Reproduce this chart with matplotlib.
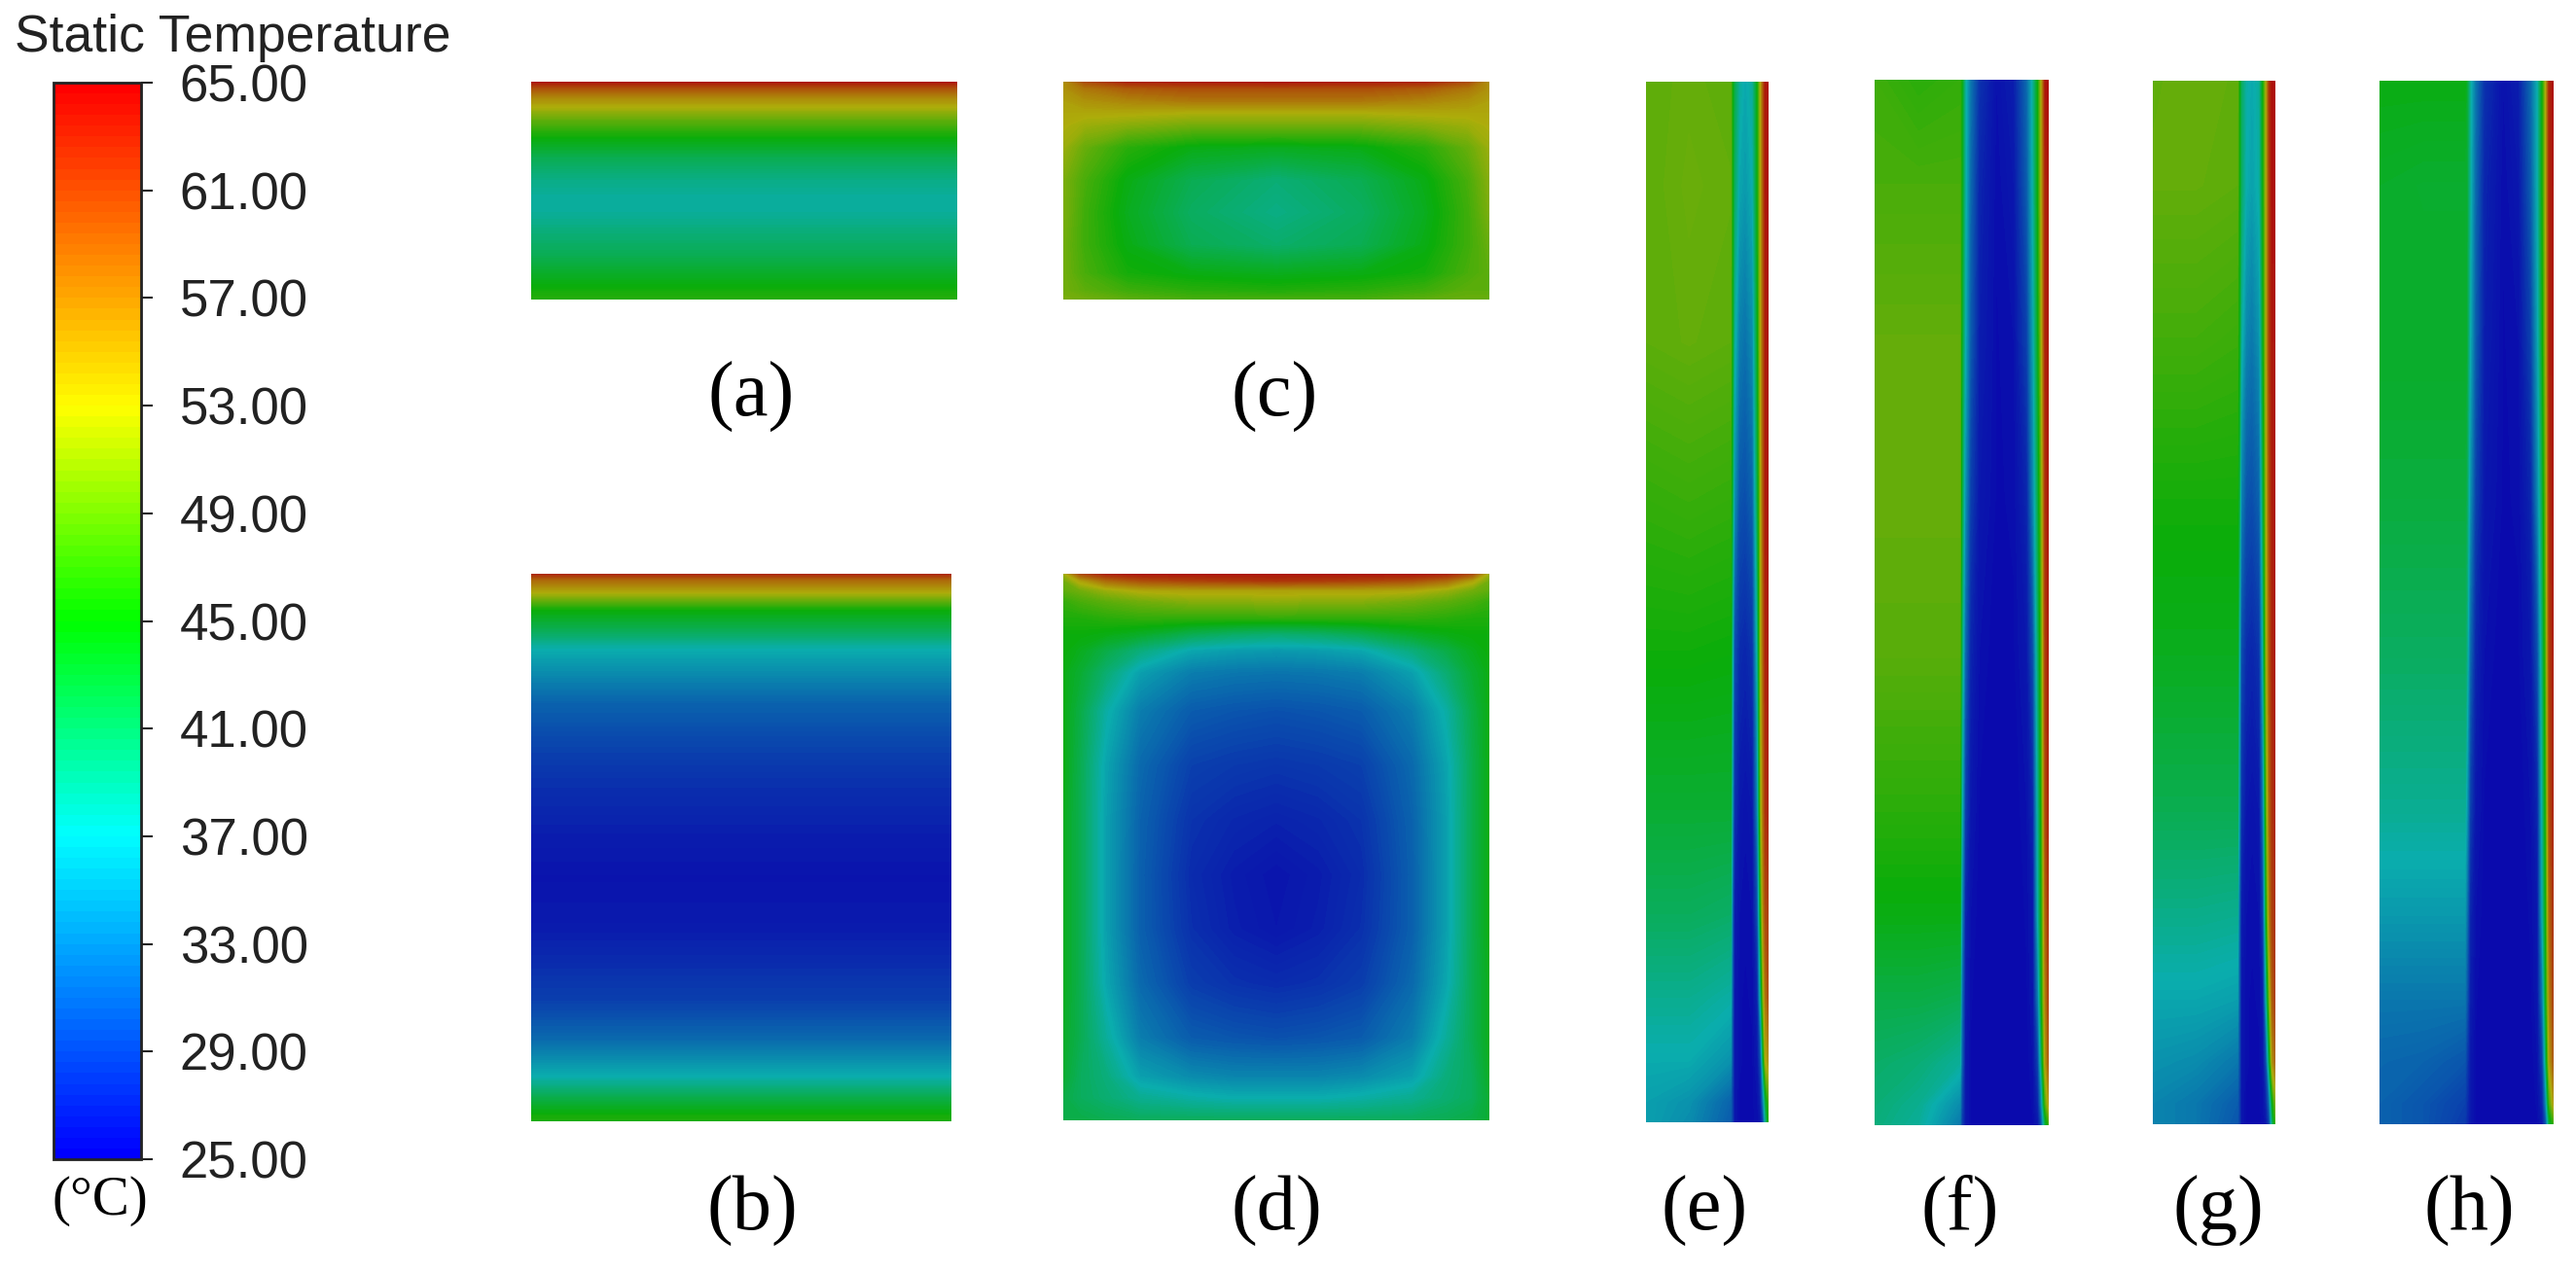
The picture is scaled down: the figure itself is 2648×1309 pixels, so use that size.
import numpy as np
import matplotlib
matplotlib.use("Agg")
import matplotlib.pyplot as plt
from matplotlib.colors import LinearSegmentedColormap, Normalize
from matplotlib.cm import ScalarMappable

W, H = 2648, 1309

# ---------- data: temperatures (deg C) ----------
tick_values = [25, 29, 33, 37, 41, 45, 49, 53, 57, 61, 65]
tick_labels = ["25.00", "29.00", "33.00", "37.00", "41.00", "45.00", "49.00", "53.00", "57.00", "61.00", "65.00"]
colorbar_title = "Static Temperature"
unit_label = "(°C)"

a_y = [0, .03, .07, .116, .18, .258, .35, .45, .52, .6, .7, .8, .9, .96, 1]
a_t = [64.5, 60, 56, 53, 49, 45, 41.5, 39, 38, 38, 39.8, 41.5, 44, 45.5, 46.5]

b_y = [0, .012, .033, .067, .107, .138, .19, .237, .305, .373, .475, .556, .645, .71, .78, .85, .918, .958, .99, 1]
b_t = [63, 58, 53.5, 45, 41, 37, 34, 31.5, 29.5, 28, 26.5, 25.7, 26.3, 27.5, 29, 32, 37, 42, 45.5, 46]

c_x = [0, .05, .15, .3, .5, .7, .85, .95, 1]
c_y = [0, .03, .086, .14, .2, .3, .45, .6, .75, .88, .96, 1]
c_t = [
    [55, 60, 63, 63.5, 64, 63.5, 63, 60, 55],
    [55, 57, 59, 60, 60, 60, 59, 57, 55],
    [54, 55, 56, 57, 57, 57, 56, 55, 54],
    [53.5, 53.5, 53.5, 53, 53, 53, 53.5, 53.5, 53.5],
    [53, 52, 51, 50, 50, 50, 51, 52, 53],
    [52, 49.5, 46.5, 44.5, 44, 44.5, 46.5, 49.5, 52],
    [50.5, 48, 44.5, 41.5, 39.8, 41.5, 44.5, 48, 51],
    [50.5, 47.5, 44, 40.8, 39, 40.8, 44, 47.5, 50.5],
    [50, 47.5, 44.5, 41.5, 40.3, 41.5, 44.5, 47.5, 49.5],
    [50, 48, 45.5, 44.5, 44, 44.5, 45.5, 48, 49],
    [50, 49, 47.5, 46.5, 46, 46.5, 47.5, 49, 49],
    [50.5, 50, 49, 48, 48, 48, 49, 49.5, 49.5],
]

d_x = [0, .04, .1, .18, .3, .4, .5, .6, .7, .82, .9, .96, 1]
d_y = [0, .012, .03, .05, .08, .11, .14, .18, .25, .35, .45, .55, .65, .75, .85, .92, .96, 1]
d_t = [
    [52, 60, 63, 64, 64, 64, 64, 64, 64, 64, 63, 60, 52],
    [50, 54, 58, 60, 61, 61.5, 62, 61.5, 61, 60, 58, 54, 50],
    [49, 50, 52, 53.5, 54, 54, 54, 54, 54, 53.5, 52, 50, 49],
    [47, 48, 49, 50, 51, 51, 51.5, 51, 51, 50, 49, 48, 47],
    [46, 46, 46.5, 47, 47, 47, 47, 47, 47, 47, 46.5, 46, 46],
    [45, 45, 44.5, 43.5, 41.5, 40.5, 40, 40.5, 41.5, 43.5, 44.5, 45, 45],
    [45, 44, 42, 39.5, 36.5, 35.8, 35.5, 35.8, 36.5, 39.5, 42, 44, 45],
    [44.5, 43, 40, 36, 33.5, 33, 32.8, 33, 33.5, 36, 40, 43, 44.5],
    [44.5, 42, 37.5, 33.5, 31, 30.5, 30.2, 30.5, 31, 33.5, 37.5, 42, 44.5],
    [44.5, 41.5, 36.3, 32, 29, 28.5, 28.2, 28.5, 29, 32, 36.3, 41.5, 44.5],
    [44, 41.5, 36, 31.5, 28, 27.2, 26.8, 27.2, 28, 31.5, 36, 41.5, 44.5],
    [44, 41.5, 36, 31.3, 27.5, 26.4, 25.8, 26.4, 27.5, 31.3, 36, 41.5, 44.5],
    [44, 41.5, 36, 31.3, 27.8, 26.6, 26, 26.6, 27.8, 31.3, 36, 41.5, 44.5],
    [44, 41.5, 36.5, 32, 28.8, 27.9, 27.5, 27.9, 28.8, 32, 36.5, 41.5, 44],
    [43.5, 41.5, 38, 33.5, 31, 30.5, 30.2, 30.5, 31, 33.5, 38, 41.5, 44],
    [43, 41, 39.5, 36, 34.5, 34, 34, 34, 34.5, 36, 39.5, 41, 43.5],
    [42, 41, 40, 38.5, 37.5, 37, 37, 37, 37.5, 38.5, 40, 41, 43],
    [42, 42, 41.5, 41, 41, 41, 41, 41, 41, 41, 41.5, 42, 43],
]

slim_y = [0, .1, .25, .4, .55, .7, .8, .88, .94, .98, 1]

e_x = [0, .35, .69, .705, .72, .76, .81, .87, .91, .935, .955, .975, 1]
e_t = [
    [49, 49.4, 49, 45, 42, 38, 36.5, 38, 45, 53, 59, 64, 64],
    [49, 49.6, 49.3, 45, 41, 36.5, 35.5, 37, 45, 53, 59, 64, 64.5],
    [49, 49.3, 49, 44, 38, 33.5, 32.5, 34.5, 44, 53, 59, 63.5, 64],
    [47, 47.3, 47, 42, 35, 30.5, 30, 31.5, 42, 52, 59, 63.5, 64],
    [45.2, 45.2, 45, 38, 30, 27.5, 27, 28, 38, 52, 58, 63, 63.5],
    [43, 43, 43, 35, 28, 26, 25.6, 26, 34, 50, 57, 62, 63],
    [41, 41, 40.5, 32, 26.5, 25.5, 25.3, 25.5, 30, 45, 55, 60, 61],
    [38.5, 38.5, 37.5, 31, 26, 25.3, 25.2, 25.3, 27, 38, 50, 57, 60],
    [36.8, 36.8, 35, 30, 26, 25.3, 25.2, 25.2, 26, 30, 42, 53, 55],
    [36, 35, 31.5, 29, 26, 25.2, 25.2, 25.2, 25.5, 27, 33, 42, 48],
    [36, 34.5, 31, 29, 26, 25.2, 25.2, 25.2, 25.3, 26, 29, 38, 46],
]

f_x = [0, .25, .49, .50, .52, .55, .6, .7, .8, .875, .91, .938, .958, .98, 1]
f_t = [
    [47.5, 46.5, 47, 45, 38, 33, 28, 25.5, 26.5, 32, 38, 45, 53, 64, 64.5],
    [48, 48, 48, 45, 38, 32, 27, 25.3, 26, 31, 37.5, 45, 53, 63, 64],
    [49.3, 49.3, 49.3, 44, 37, 31, 26.5, 25.2, 25.5, 29, 36, 44, 52, 63, 64],
    [49.4, 49.4, 49.4, 43, 35, 29, 26, 25.2, 25.3, 27, 34, 42, 50, 62, 64],
    [48.8, 48.8, 48.8, 41, 32, 27, 25.5, 25, 25.2, 26, 30, 40, 48, 61, 63.5],
    [46.5, 46.5, 46.5, 38, 29, 26, 25.2, 25, 25, 25.5, 27, 38, 46, 60, 63],
    [44.5, 44.5, 44.5, 35, 27, 25.5, 25.1, 25, 25, 25.3, 26, 37, 45, 58, 62],
    [42, 42, 41.5, 33, 26.5, 25.3, 25, 25, 25, 25.2, 25.8, 33, 44, 56, 61],
    [40.5, 39.8, 38, 32, 26, 25.2, 25, 25, 25, 25.1, 25.5, 29, 40, 54, 59],
    [39.8, 38.5, 34.5, 30, 26, 25.2, 25, 25, 25, 25.1, 25.3, 27, 34, 48, 54],
    [39.5, 38, 33, 29, 26, 25.2, 25, 25, 25, 25, 25.2, 26, 30, 42, 47],
]

g_x = [0, .35, .69, .705, .72, .76, .81, .87, .9, .925, .95, .975, 1]
g_t = [
    [49.2, 49.4, 49.2, 45, 41, 37.5, 36.5, 38, 45, 53, 62, 64.5, 64.5],
    [49.3, 49.3, 49, 45, 41, 37, 36, 37.5, 45, 53, 61, 64.5, 64.5],
    [47.7, 47.7, 47.3, 44, 38, 34, 33, 35, 44, 53, 61, 64, 64],
    [45.5, 45.5, 45.5, 42, 34, 30.5, 30, 31.5, 42, 52, 60, 63.5, 64],
    [44, 44, 44, 38, 30, 27.5, 27, 28, 38, 51, 59, 63, 63.5],
    [41.5, 41.5, 41.5, 35, 28, 26, 25.6, 26, 33, 48, 58, 62, 63],
    [38.8, 38.8, 38.5, 32, 26.5, 25.5, 25.3, 25.5, 29, 44, 56, 61, 62],
    [36.5, 36.5, 36, 31, 26, 25.3, 25.2, 25.3, 26.5, 37, 50, 59, 61],
    [35, 34.5, 33, 30, 26, 25.3, 25.2, 25.2, 25.8, 30, 42, 55, 58],
    [34, 33, 31, 29, 26, 25.2, 25.2, 25.2, 25.4, 27, 32, 44, 50],
    [34, 33, 30.5, 29, 26, 25.2, 25.2, 25.2, 25.3, 26, 29, 40, 47],
]

h_x = [0, .25, .49, .50, .52, .55, .6, .71, .8, .87, .908, .936, .955, .975, 1]
h_t = [
    [44.5, 44.5, 44.5, 43.5, 38, 33, 28, 25.5, 26.5, 32, 37, 45, 53, 63, 64.5],
    [43.5, 43.2, 43.2, 43, 38, 32, 27, 25.3, 26, 31, 37, 45, 53, 63, 64],
    [43.5, 43.5, 43.5, 43, 37, 31, 26.5, 25.2, 25.5, 29, 36, 44, 52, 63, 64],
    [42.5, 42.5, 42.5, 41.5, 35, 29, 26, 25.2, 25.3, 27, 34, 42, 50, 62, 64],
    [40.8, 40.8, 40.8, 39.5, 32, 27, 25.5, 25, 25.2, 26, 30, 40, 48, 61, 63.5],
    [38.3, 38.3, 38.3, 36, 29, 26, 25.2, 25, 25, 25.5, 27, 38, 46, 60, 63],
    [35.5, 35.5, 35.5, 33, 27, 25.5, 25.1, 25, 25, 25.3, 26, 37, 45, 58, 62],
    [33, 33, 33, 31, 26.5, 25.3, 25, 25, 25, 25.2, 25.8, 33, 44, 56, 61],
    [31.8, 31.5, 30.5, 29, 26, 25.2, 25, 25, 25, 25.1, 25.5, 29, 40, 54, 59],
    [31.5, 30.5, 29, 28, 26, 25.2, 25, 25, 25, 25.1, 25.3, 27, 34, 48, 54],
    [31.5, 30.5, 28.5, 27.5, 26, 25.2, 25, 25, 25, 25, 25.2, 26, 30, 42, 47],
]

full_x = [0, 1]

# ---------- styles ----------
plt.rcParams["font.family"] = ["Liberation Sans", "DejaVu Sans"]
SERIF = ["Liberation Serif", "DejaVu Serif"]

stop_temps = [25, 31, 37, 41, 45, 49, 53, 59, 65]
stop_rgb = [(0, 0, 255), (0, 128, 255), (0, 255, 255), (0, 255, 128), (0, 255, 0),
            (128, 255, 0), (255, 255, 0), (255, 128, 0), (255, 0, 0)]
norm = Normalize(25, 65)
bar_cmap = LinearSegmentedColormap.from_list(
    "fluent", [(float(norm(t)), tuple(v / 255 for v in s)) for t, s in zip(stop_temps, stop_rgb)], N=100)
panel_cmap = LinearSegmentedColormap.from_list(
    "fluent_dim", [(float(norm(t)), tuple((0.64 * v + 10) / 255 for v in s)) for t, s in zip(stop_temps, stop_rgb)], N=256)
levels = np.linspace(25, 65, 161)

fig = plt.figure(figsize=(W / 100, H / 100), dpi=100, facecolor="white")


def px_axes(x0, y0, x1, y1):
    return fig.add_axes([x0 / W, 1 - y1 / H, (x1 - x0) / W, (y1 - y0) / H])


def draw_field(box, xs, ys, temps):
    ax = px_axes(*box)
    z = np.clip(np.asarray(temps, float), 25.01, 64.99)
    ax.contourf(xs, ys, z, levels=levels, cmap=panel_cmap, norm=norm, antialiased=False)
    ax.set_xlim(0, 1)
    ax.set_ylim(1, 0)
    ax.axis("off")
    return ax


draw_field((546, 84, 984, 308), full_x, a_y, [[t, t] for t in a_t])
draw_field((546, 590, 978, 1153), full_x, b_y, [[t, t] for t in b_t])
draw_field((1093, 84, 1531, 308), c_x, c_y, c_t)
draw_field((1093, 590, 1531, 1152), d_x, d_y, d_t)
draw_field((1692, 84, 1818, 1154), e_x, slim_y, e_t)
draw_field((1927, 82, 2106, 1157), f_x, slim_y, f_t)
draw_field((2213, 83, 2339, 1156), g_x, slim_y, g_t)
draw_field((2446, 83, 2625, 1156), h_x, slim_y, h_t)

# colour bar
cax = px_axes(55, 85, 145, 1192)
cb = fig.colorbar(ScalarMappable(norm=norm, cmap=bar_cmap), cax=cax, ticks=tick_values)
cb.ax.set_yticklabels(tick_labels)
cb.ax.tick_params(length=8.6, width=1.5, color="#222222", pad=20, labelsize=38, labelcolor="#222222")
cb.outline.set_linewidth(2)
cb.outline.set_edgecolor("#222222")


def px_text(x, y, s, **kw):
    fig.text(x / W, 1 - y / H, s, va="baseline", **kw)


px_text(15, 53, colorbar_title, ha="left", fontsize=38.5, color="#222222")
px_text(103, 1249, unit_label, ha="center", fontsize=41, family=SERIF, color="black")

panel_labels = ["(a)", "(c)", "(b)", "(d)", "(e)", "(f)", "(g)", "(h)"]
label_x = [772, 1310, 773, 1312, 1752, 2015, 2280, 2538]
label_y = [428, 428, 1265, 1265, 1265, 1265, 1265, 1265]
for s, x, y in zip(panel_labels, label_x, label_y):
    px_text(x, y, s, ha="center", fontsize=58, family=SERIF, color="black")

fig.savefig("out.png", dpi=100, facecolor="white")
